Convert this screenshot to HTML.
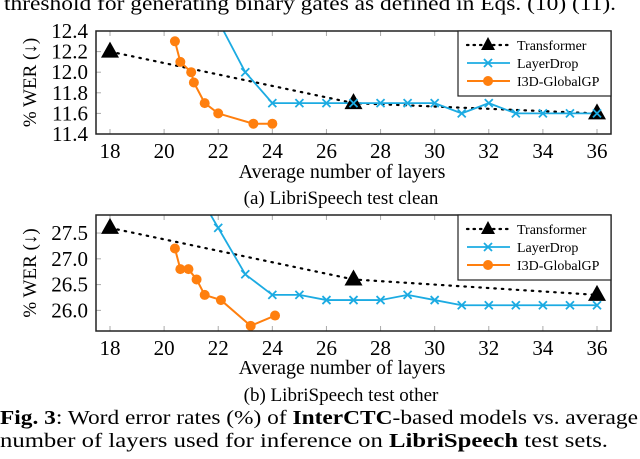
<!DOCTYPE html>
<html><head><meta charset="utf-8"><style>
body{margin:0;background:#fff;}
svg{display:block;}
svg text{font-family:"Liberation Serif","DejaVu Serif",serif;}
</style></head><body>
<svg id="fig" width="640" height="459" viewBox="0 0 640 459">
<text x="4" y="10" font-size="20" textLength="612" lengthAdjust="spacingAndGlyphs">threshold for generating binary gates as defined in Eqs. (10) (11).</text>
<g id="p1"></g>
<g id="p2"></g>
<text x="342" y="178" font-size="20" text-anchor="middle">Average number of layers</text>
<text x="341" y="204" font-size="19" text-anchor="middle">(a) LibriSpeech test clean</text>
<text x="342" y="374" font-size="20" text-anchor="middle">Average number of layers</text>
<text x="341" y="401" font-size="19" text-anchor="middle">(b) LibriSpeech test other</text>
<text x="0" y="424" font-size="20" textLength="638" lengthAdjust="spacingAndGlyphs"><tspan font-weight="bold">Fig. 3</tspan>: Word error rates (%) of <tspan font-weight="bold">InterCTC</tspan>-based models vs. average</text>
<text x="0" y="447" font-size="20" textLength="608" lengthAdjust="spacingAndGlyphs">number of layers used for inference on <tspan font-weight="bold">LibriSpeech</tspan> test sets.</text>
</svg>
<script>
const xTicks=[18,20,22,24,26,28,30,32,34,36];
const yTicksClean=[11.4,11.6,11.8,12.0,12.2,12.4];
const yTicksOther=[26.0,26.5,27.0,27.5];
const trX=[18,27,36];
const trClean=[12.2,11.7,11.6];
const trOther=[27.6,26.6,26.3];
const ldX=[22,23,24,25,26,27,28,29,30,31,32,33,34,35,36];
const ldClean=[12.5,12.0,11.7,11.7,11.7,11.7,11.7,11.7,11.7,11.6,11.7,11.6,11.6,11.6,11.6];
const ldXOther=[21,22,23,24,25,26,27,28,29,30,31,32,33,34,35,36];
const ldOther=[28.5,27.6,26.7,26.3,26.3,26.2,26.2,26.2,26.3,26.2,26.1,26.1,26.1,26.1,26.1,26.1];
const gpXClean=[20.4,20.6,21,21.1,21.5,22,23.3,24];
const gpClean=[12.3,12.1,12.0,11.9,11.7,11.6,11.5,11.5];
const gpXOther=[20.4,20.6,20.9,21.2,21.5,22.1,23.2,24.1];
const gpOther=[27.2,26.8,26.8,26.6,26.3,26.2,25.7,25.9];
const NS="http://www.w3.org/2000/svg";
const BLUE="#1cabe2",ORANGE="#ff7f0e";
function mk(parent,tag,attrs){const e=document.createElementNS(NS,tag);for(const k in attrs)e.setAttribute(k,attrs[k]);parent.appendChild(e);return e;}
function panel(g,cfg){
  const L=96,R=611,T=cfg.top,B=cfg.bottom;
  const sx=v=>110+(v-18)*(597-110)/18;
  const sy=v=>B-(v-cfg.ymin)*(B-T)/(cfg.ymax-cfg.ymin);
  const id=g.id+"clip";
  const cp=mk(g,"clipPath",{id:id});mk(cp,"rect",{x:L,y:T,width:R-L,height:B-T});
  xTicks.forEach(t=>{
    const l=mk(g,"line",{x1:sx(t),x2:sx(t),y1:B,y2:B-5,stroke:"#aaa","stroke-width":1});
    
    mk(g,"line",{x1:sx(t),x2:sx(t),y1:T,y2:T+5,stroke:"#aaa","stroke-width":1});
    const tx=mk(g,"text",{x:sx(t),y:B+24,"font-size":21,"text-anchor":"middle"});tx.textContent=t;
    
  });
  cfg.yt.forEach(t=>{
    mk(g,"line",{x1:L,x2:L+5,y1:sy(t),y2:sy(t),stroke:"#aaa","stroke-width":1});
    const tx=mk(g,"text",{x:L-8,y:sy(t)+7,"font-size":21,"text-anchor":"end"});tx.textContent=t.toFixed(1);
    
  });
  const yc=(T+B)/2;
  const yt=mk(g,"text",{x:0,y:0,"font-size":19,"text-anchor":"middle",transform:`translate(36,${yc}) rotate(-90)`});yt.textContent="% WER (↓)";
  
  const cg=mk(g,"g",{"clip-path":`url(#${id})`});
  const pts=(xs,ys)=>xs.map((x,i)=>sx(x)+","+sy(ys[i])).join(" ");
  const tl=mk(cg,"polyline",{points:pts(trX,cfg.tr),fill:"none",stroke:"#000","stroke-width":2.2,"stroke-dasharray":"1.5 6","stroke-linecap":"round"});
  
  const ll=mk(cg,"polyline",{points:pts(cfg.ldx,cfg.ld),fill:"none",stroke:BLUE,"stroke-width":1.8});
  
  const gl=mk(cg,"polyline",{points:pts(cfg.gpx,cfg.gp),fill:"none",stroke:ORANGE,"stroke-width":2});
  
  cfg.gpx.forEach((x,i)=>{const c=mk(cg,"circle",{cx:sx(x),cy:sy(cfg.gp[i]),r:5,fill:ORANGE});
    });
  trX.forEach((x,i)=>{const X=sx(x),Y=sy(cfg.tr[i]);
    const p=mk(cg,"polygon",{points:`${X},${Y-10} ${X-9},${Y+6} ${X+9},${Y+6}`,fill:"#000"});
    });
  cfg.ldx.forEach((x,i)=>{const X=sx(x),Y=sy(cfg.ld[i]);
    const c=mk(cg,"path",{d:`M${X-4},${Y-4}L${X+4},${Y+4}M${X-4},${Y+4}L${X+4},${Y-4}`,stroke:BLUE,"stroke-width":1.8});
    });
  const fr=mk(g,"rect",{x:L,y:T,width:R-L,height:B-T,fill:"none",stroke:"#222","stroke-width":1.5});
  
  const lg=mk(g,"g",{});
  
  const lt=T;mk(lg,"rect",{x:458,y:lt,width:153,height:65,fill:"#fff",stroke:"#222","stroke-width":1.2});
  const rows=[["Transformer",0],["LayerDrop",1],["I3D-GlobalGP",2]];
  rows.forEach(([name,k])=>{
    const y=lt+14+k*18;
    const e=mk(lg,"g",{});
    if(k==0){mk(e,"line",{x1:467,x2:510,y1:y,y2:y,stroke:"#000","stroke-width":2.2,"stroke-dasharray":"1.5 5","stroke-linecap":"round"});
      mk(e,"polygon",{points:`488,${y-8} 481,${y+5} 495,${y+5}`,fill:"#000"});}
    if(k==1){mk(e,"line",{x1:467,x2:510,y1:y,y2:y,stroke:BLUE,"stroke-width":1.8});
      mk(e,"path",{d:`M484,${y-4}L492,${y+4}M484,${y+4}L492,${y-4}`,stroke:BLUE,"stroke-width":1.8});}
    if(k==2){mk(e,"line",{x1:467,x2:510,y1:y,y2:y,stroke:ORANGE,"stroke-width":2});mk(e,"circle",{cx:488,cy:y,r:5,fill:ORANGE});}
    const t=mk(e,"text",{x:517,y:y+5,"font-size":14});t.textContent=name;
  });
}
panel(document.getElementById("p1"),{top:31,bottom:134,ymin:11.4,ymax:12.4,yt:yTicksClean,tr:trClean,ldx:ldX,ld:ldClean,gpx:gpXClean,gp:gpClean});
panel(document.getElementById("p2"),{top:215,bottom:331,ymin:25.6,ymax:27.85,yt:yTicksOther,tr:trOther,ldx:ldXOther,ld:ldOther,gpx:gpXOther,gp:gpOther});
</script>
</body></html>
